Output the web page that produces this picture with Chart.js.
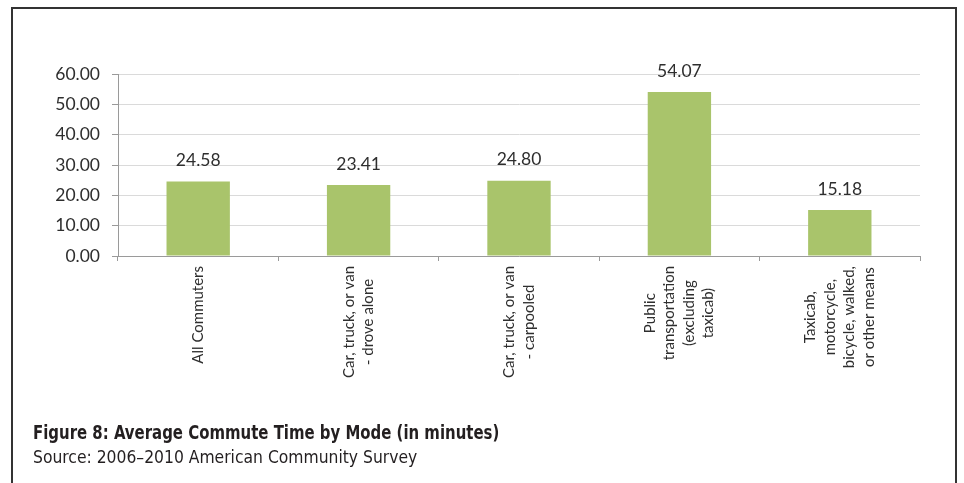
<!DOCTYPE html>
<html>
<head>
<meta charset="utf-8">
<script src="https://cdn.jsdelivr.net/npm/chart.js@4/dist/chart.umd.min.js"></script>
<style>
  html, body { margin: 0; padding: 0; background: #fff; }
  #wrap { position: relative; width: 964px; height: 483px; overflow: hidden; }
  #frame { position: absolute; left: 11px; top: 7px; width: 946px; height: 520px;
           border: 2px solid #333; box-sizing: border-box; }
  canvas { position: absolute; left: 0; top: 0; }
  .cap { position: absolute; left: 33px; color: #231f20; white-space: nowrap;
         font-family: "DejaVu Sans Condensed", sans-serif; transform-origin: 0 50%; }
  #title { top: 420px; font-size: 20px; font-weight: bold; transform: scaleX(0.83); }
  #source { top: 447px; font-size: 17.5px; transform: scaleX(0.99); }
</style>
</head>
<body>
<div id="wrap">
  <div id="frame"></div>
  <canvas id="chart" width="964" height="483"></canvas>
  <div class="cap" id="title">Figure 8: Average Commute Time by Mode (in minutes)</div>
  <div class="cap" id="source">Source: 2006–2010 American Community Survey</div>
</div>
<script>
// Commute modes (each entry is the wrapped lines of its axis label)
const modes = [
  ["All Commuters"],
  ["Car, truck, or van", "- drove alone"],
  ["Car, truck, or van", "- carpooled"],
  ["Public", "transportation", "(excluding", "taxicab)"],
  ["Taxicab,", "motorcycle,", "bicycle, walked,", "or other means"]
];
// Average commute time in minutes
const avgMinutes = [24.58, 23.41, 24.80, 54.07, 15.18];
// Value axis
const yMin = 0, yMax = 60, yStep = 10;

const FONT = "Lato, 'Open Sans', sans-serif";

// Value labels above each bar
const valueLabels = {
  id: 'valueLabels',
  afterDatasetsDraw(chart) {
    const ctx = chart.ctx;
    const meta = chart.getDatasetMeta(0);
    ctx.save();
    ctx.font = "17.5px " + FONT;
    ctx.fillStyle = "#2e2e2e";
    ctx.textAlign = "center";
    ctx.textBaseline = "middle";
    meta.data.forEach((bar, i) => {
      ctx.fillText(avgMinutes[i].toFixed(2), bar.x, bar.y - 21);
    });
    ctx.restore();
  }
};

// Vertical, centred multi-line category labels
const modeLabels = {
  id: 'modeLabels',
  afterDraw(chart) {
    const ctx = chart.ctx;
    const xs = chart.scales.x;
    const lh = 19.5;
    ctx.save();
    ctx.font = "15px " + FONT;
    ctx.fillStyle = "#2e2e2e";
    ctx.textAlign = "center";
    ctx.textBaseline = "middle";
    modes.forEach((lines, i) => {
      const cx = xs.getPixelForValue(i);
      const maxW = Math.max(...lines.map(l => ctx.measureText(l).width));
      const top = xs.top + 10;
      lines.forEach((line, j) => {
        const off = (j - (lines.length - 1) / 2) * lh;
        ctx.save();
        ctx.translate(cx + off, top + maxW / 2);
        ctx.rotate(-Math.PI / 2);
        ctx.fillText(line, 0, 0);
        ctx.restore();
      });
    });
    ctx.restore();
  }
};

new Chart(document.getElementById('chart'), {
  type: 'bar',
  data: {
    labels: modes.map(l => l.join(' ')),
    datasets: [{
      data: avgMinutes,
      backgroundColor: '#a9c46b',
      borderWidth: 0,
      barPercentage: 0.395,
      categoryPercentage: 1.0
    }]
  },
  options: {
    responsive: false,
    animation: false,
    events: [],
    layout: { padding: { top: 74, right: 44, left: 0, bottom: 0 } },
    plugins: { legend: { display: false }, tooltip: { enabled: false } },
    scales: {
      x: {
        grid: { drawOnChartArea: false, offset: true, tickLength: 5, tickColor: '#9a9a9a' },
        border: { color: '#9a9a9a', width: 1 },
        ticks: { display: false },
        afterFit(scale) { scale.height = 227; }
      },
      y: {
        min: yMin, max: yMax,
        grid: { color: '#dadada', tickColor: '#9a9a9a', tickLength: 6 },
        border: { color: '#9a9a9a', width: 1 },
        ticks: {
          stepSize: yStep,
          padding: 12,
          color: '#2e2e2e',
          font: { family: FONT, size: 17.5 },
          callback: v => Number(v).toFixed(2)
        },
        afterFit(scale) { scale.width = 118; }
      }
    }
  },
  plugins: [valueLabels, modeLabels]
});
</script>
</body>
</html>
